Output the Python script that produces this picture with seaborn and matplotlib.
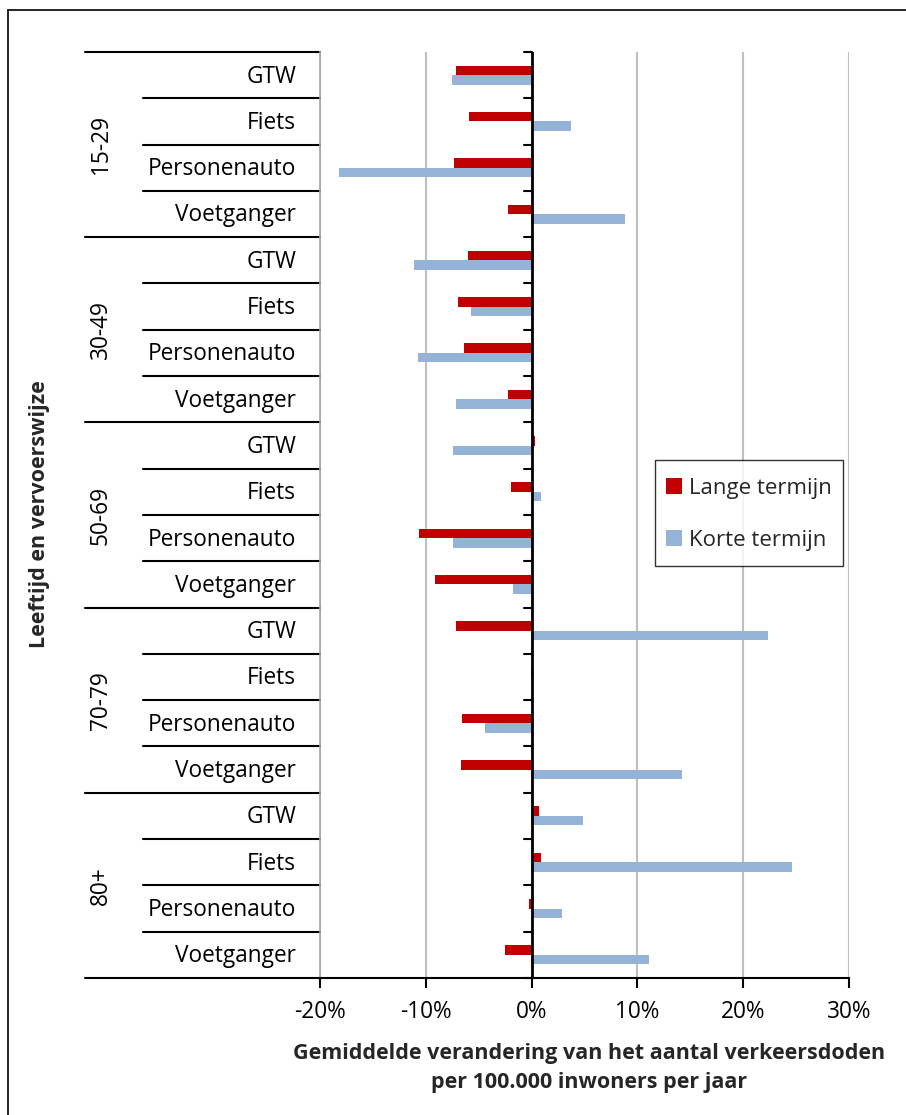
import numpy as np
import pandas as pd
import matplotlib
matplotlib.use("Agg")
import matplotlib.pyplot as plt
import seaborn as sns
from matplotlib.lines import Line2D
from matplotlib.patches import Patch, Rectangle
from matplotlib.legend_handler import HandlerPatch
from matplotlib.transforms import blended_transform_factory

# --- data: average yearly change in road deaths per 100,000 inhabitants (%) ---
age_groups = ["15-29", "30-49", "50-69", "70-79", "80+"]
modes = ["GTW", "Fiets", "Personenauto", "Voetganger"]
series = ["Lange termijn", "Korte termijn"]
lange_termijn = [-7.1, -5.9, -7.3, -2.2,
                 -6.0, -7.0, -6.4, -2.2,
                 0.3, -1.9, -10.6, -9.1,
                 -7.1, -0.1, -6.6, -6.7,
                 0.7, 0.9, -0.2, -2.5]
korte_termijn = [-7.5, 3.7, -18.2, 8.8,
                 -11.1, -5.7, -10.7, -7.1,
                 -7.4, 0.9, -7.4, -1.8,
                 22.3, 0.0, -4.4, 14.2,
                 4.9, 24.6, 2.9, 11.1]
xticks = [-20, -10, 0, 10, 20, 30]
tick_labels = ["-20%", "-10%", "0%", "10%", "20%", "30%"]
colors = ["#C00000", "#95B3D7"]

sns.set_theme(style="white")
plt.rcParams["font.family"] = ["Open Sans", "DejaVu Sans"]
FS = 16.3        # category and tick labels
FS_TITLE = 15.5  # bold axis titles
FS_LEG = 16

keys = [f"{a}|{m}" for a in age_groups for m in modes]
rows = []
for k, v1, v2 in zip(keys, lange_termijn, korte_termijn):
    rows.append({"cat": k, "serie": series[0], "val": v1})
    rows.append({"cat": k, "serie": series[1], "val": v2})
df = pd.DataFrame(rows)

W, H = 906, 1115
fig = plt.figure(figsize=(W / 100, H / 100), dpi=100)
L, R, T, B = 320, 849, 52, 978
ax = fig.add_axes([L / W, 1 - B / H, (R - L) / W, (B - T) / H])

sns.barplot(data=df, y="cat", x="val", hue="serie", hue_order=series,
            order=keys, palette=colors, orient="h", width=0.41,
            saturation=1, linewidth=0, legend=False, ax=ax, zorder=2)

ax.set_xlim(xticks[0], xticks[-1])
ax.set_ylim(len(keys) - 0.5, -0.5)
ax.set_xticks(xticks)
ax.set_xticklabels(tick_labels, fontsize=FS)
ax.set_yticks([])
ax.set_xlabel("")
ax.set_ylabel("")
ax.grid(axis="x", color="#BFBFBF", lw=1.5)
ax.grid(axis="y", visible=False)
ax.set_axisbelow(True)
for s in ["top", "right"]:
    ax.spines[s].set_visible(False)
ax.spines["left"].set_color("#A6A6A6")
ax.spines["left"].set_linewidth(1.2)
ax.spines["bottom"].set_color("black")
ax.spines["bottom"].set_linewidth(1.5)
ax.tick_params(axis="x", direction="out", length=7, width=1.5,
               color="black", pad=9, labelcolor="black", bottom=True)

# vertical value axis at zero, with tick marks at category boundaries
ax.axvline(0, color="black", lw=2, zorder=3)
for b in np.arange(len(keys) + 1) - 0.5:
    ax.plot([-0.75, 0], [b, b], color="black", lw=1.5, zorder=3,
            clip_on=False)

# two-level category labels on the left
tr = blended_transform_factory(ax.transAxes, ax.transData)
x_inner = (143 - L) / (R - L)
x_group = (85 - L) / (R - L)
for i, b in enumerate(np.arange(len(keys) + 1) - 0.5):
    x0 = x_group if i % len(modes) == 0 else x_inner
    ax.add_line(Line2D([x0, 0], [b, b], transform=tr, color="black",
                       lw=1.5, clip_on=False))
for i, k in enumerate(keys):
    ax.text((296 - L) / (R - L), i + 0.03, k.split("|")[1], transform=tr,
            ha="right", va="center", fontsize=FS, color="black")
for g, a in enumerate(age_groups):
    ax.text((101 - L) / (R - L), g * len(modes) + (len(modes) - 1) / 2, a,
            transform=tr, ha="center", va="center", rotation=90,
            fontsize=FS, color="black")

# axis titles
fig.text(40 / W, 1 - 514 / H, "Leeftijd en vervoerswijze", rotation=90,
         ha="center", va="center", fontsize=FS_TITLE, fontweight="bold")
fig.text(589 / W, 1 - 1068 / H,
         "Gemiddelde verandering van het aantal verkeersdoden\n"
         "per 100.000 inwoners per jaar",
         ha="center", va="center", fontsize=FS_TITLE, fontweight="bold",
         linespacing=1.5)


# legend: small square keys inside tall rows
def square_key(legend, orig_handle, xdescent, ydescent, width, height,
               fontsize):
    s = width
    return Rectangle((-xdescent, -ydescent + (height - s) / 2 + 1), s, s)


handles = [Patch(facecolor=c, edgecolor="none") for c in colors]
leg = ax.legend(handles, series, loc="upper left",
                bbox_to_anchor=(655 / W, 1 - 460 / H),
                bbox_transform=fig.transFigure, frameon=True,
                fancybox=False, edgecolor="black", fontsize=FS_LEG,
                labelspacing=0.9, handlelength=0.7, handleheight=1.84,
                handletextpad=0.35, borderpad=0.5, borderaxespad=0,
                handler_map={Patch: HandlerPatch(patch_func=square_key)})
leg.get_frame().set_linewidth(1.0)

# outer frame of the chart
fig.add_artist(Line2D([8 / W, 1], [1 - 10 / H, 1 - 10 / H],
                      transform=fig.transFigure, color="black", lw=1.2))
fig.add_artist(Line2D([8 / W, 8 / W], [0, 1 - 10 / H],
                      transform=fig.transFigure, color="black", lw=1.2))

fig.savefig("out.png", dpi=100, facecolor="white")
